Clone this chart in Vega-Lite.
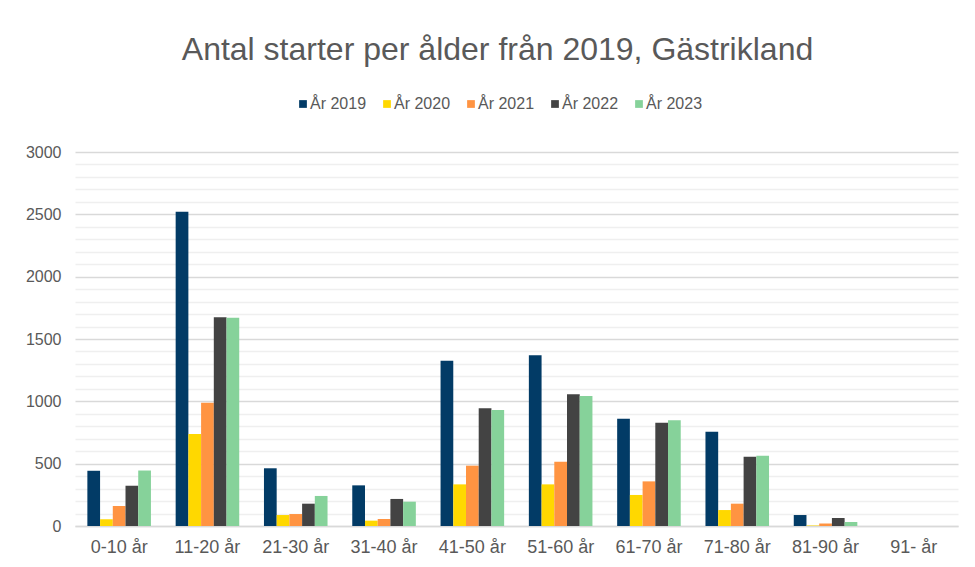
{
  "$schema": "https://vega.github.io/schema/vega-lite/v6.json",
  "autosize": "none",
  "width": 883,
  "height": 374,
  "padding": {"left": 75, "top": 152, "right": 17, "bottom": 41},
  "background": "white",
  "title": {
    "text": "Antal starter per ålder från 2019, Gästrikland",
    "fontSize": 32,
    "font": "Liberation Sans",
    "fontWeight": "normal",
    "color": "#595959",
    "anchor": "middle",
    "baseline": "alphabetic",
    "offset": 4,
    "dx": -19
  },
  "data": {
    "values": [
      {"alder": "0-10 år", "ar": "År 2019", "antal": 443},
      {"alder": "0-10 år", "ar": "År 2020", "antal": 54},
      {"alder": "0-10 år", "ar": "År 2021", "antal": 160},
      {"alder": "0-10 år", "ar": "År 2022", "antal": 323},
      {"alder": "0-10 år", "ar": "År 2023", "antal": 445},
      {"alder": "11-20 år", "ar": "År 2019", "antal": 2520},
      {"alder": "11-20 år", "ar": "År 2020", "antal": 738},
      {"alder": "11-20 år", "ar": "År 2021", "antal": 989},
      {"alder": "11-20 år", "ar": "År 2022", "antal": 1674},
      {"alder": "11-20 år", "ar": "År 2023", "antal": 1670},
      {"alder": "21-30 år", "ar": "År 2019", "antal": 463},
      {"alder": "21-30 år", "ar": "År 2020", "antal": 88},
      {"alder": "21-30 år", "ar": "År 2021", "antal": 96},
      {"alder": "21-30 år", "ar": "År 2022", "antal": 179},
      {"alder": "21-30 år", "ar": "År 2023", "antal": 241},
      {"alder": "31-40 år", "ar": "År 2019", "antal": 326},
      {"alder": "31-40 år", "ar": "År 2020", "antal": 43},
      {"alder": "31-40 år", "ar": "År 2021", "antal": 56},
      {"alder": "31-40 år", "ar": "År 2022", "antal": 217},
      {"alder": "31-40 år", "ar": "År 2023", "antal": 195},
      {"alder": "41-50 år", "ar": "År 2019", "antal": 1326},
      {"alder": "41-50 år", "ar": "År 2020", "antal": 334},
      {"alder": "41-50 år", "ar": "År 2021", "antal": 484},
      {"alder": "41-50 år", "ar": "År 2022", "antal": 944},
      {"alder": "41-50 år", "ar": "År 2023", "antal": 930},
      {"alder": "51-60 år", "ar": "År 2019", "antal": 1369},
      {"alder": "51-60 år", "ar": "År 2020", "antal": 334},
      {"alder": "51-60 år", "ar": "År 2021", "antal": 516},
      {"alder": "51-60 år", "ar": "År 2022", "antal": 1056},
      {"alder": "51-60 år", "ar": "År 2023", "antal": 1043},
      {"alder": "61-70 år", "ar": "År 2019", "antal": 861},
      {"alder": "61-70 år", "ar": "År 2020", "antal": 249},
      {"alder": "61-70 år", "ar": "År 2021", "antal": 358},
      {"alder": "61-70 år", "ar": "År 2022", "antal": 829},
      {"alder": "61-70 år", "ar": "År 2023", "antal": 848},
      {"alder": "71-80 år", "ar": "År 2019", "antal": 757},
      {"alder": "71-80 år", "ar": "År 2020", "antal": 128},
      {"alder": "71-80 år", "ar": "År 2021", "antal": 179},
      {"alder": "71-80 år", "ar": "År 2022", "antal": 556},
      {"alder": "71-80 år", "ar": "År 2023", "antal": 564},
      {"alder": "81-90 år", "ar": "År 2019", "antal": 88},
      {"alder": "81-90 år", "ar": "År 2020", "antal": 4},
      {"alder": "81-90 år", "ar": "År 2021", "antal": 20},
      {"alder": "81-90 år", "ar": "År 2022", "antal": 64},
      {"alder": "81-90 år", "ar": "År 2023", "antal": 32},
      {"alder": "91- år", "ar": "År 2019", "antal": 0},
      {"alder": "91- år", "ar": "År 2020", "antal": 0},
      {"alder": "91- år", "ar": "År 2021", "antal": 0},
      {"alder": "91- år", "ar": "År 2022", "antal": 0},
      {"alder": "91- år", "ar": "År 2023", "antal": 0}
    ]
  },
  "mark": {"type": "bar"},
  "encoding": {
    "x": {
      "field": "alder",
      "type": "nominal",
      "sort": null,
      "scale": {"paddingInner": 0.28, "paddingOuter": 0.14},
      "axis": {
        "title": null,
        "labelAngle": 0,
        "labelFontSize": 18,
        "labelFont": "Liberation Sans",
        "labelColor": "#595959",
        "labelPadding": 12,
        "ticks": false,
        "domainColor": "#d9d9d9",
        "domainWidth": 1.5,
        "grid": false
      }
    },
    "xOffset": {"field": "ar", "type": "nominal", "sort": null, "scale": {"paddingInner": 0, "paddingOuter": 0}},
    "y": {
      "field": "antal",
      "type": "quantitative",
      "scale": {"domain": [0, 3000], "nice": false},
      "axis": {
        "title": null,
        "values": [0,100,200,300,400,500,600,700,800,900,1000,1100,1200,1300,1400,1500,1600,1700,1800,1900,2000,2100,2200,2300,2400,2500,2600,2700,2800,2900,3000],
        "labelExpr": "datum.value % 500 === 0 ? datum.label : ''",
        "format": "d",
        "labelFontSize": 16,
        "labelFont": "Liberation Sans",
        "labelColor": "#595959",
        "labelPadding": 14,
        "ticks": false,
        "domain": false,
        "grid": true,
        "gridColor": {"condition": {"test": "datum.value % 500 === 0", "value": "#d9d9d9"}, "value": "#efefef"},
        "gridWidth": 1.5
      }
    },
    "color": {
      "field": "ar",
      "type": "nominal",
      "sort": null,
      "scale": {
        "domain": ["År 2019", "År 2020", "År 2021", "År 2022", "År 2023"],
        "range": ["#023B66", "#FFD800", "#FF9442", "#434343", "#86D29A"]
      },
      "legend": {
        "title": null,
        "orient": "none",
        "direction": "horizontal",
        "legendX": 220,
        "legendY": -56,
        "symbolType": "square",
        "symbolSize": 60,
        "symbolStrokeWidth": 0,
        "labelFontSize": 16,
        "labelFont": "Liberation Sans",
        "labelColor": "#595959",
        "labelOffset": -1,
        "columnPadding": 12
      }
    }
  },
  "config": {
    "view": {"stroke": null}
  }
}
